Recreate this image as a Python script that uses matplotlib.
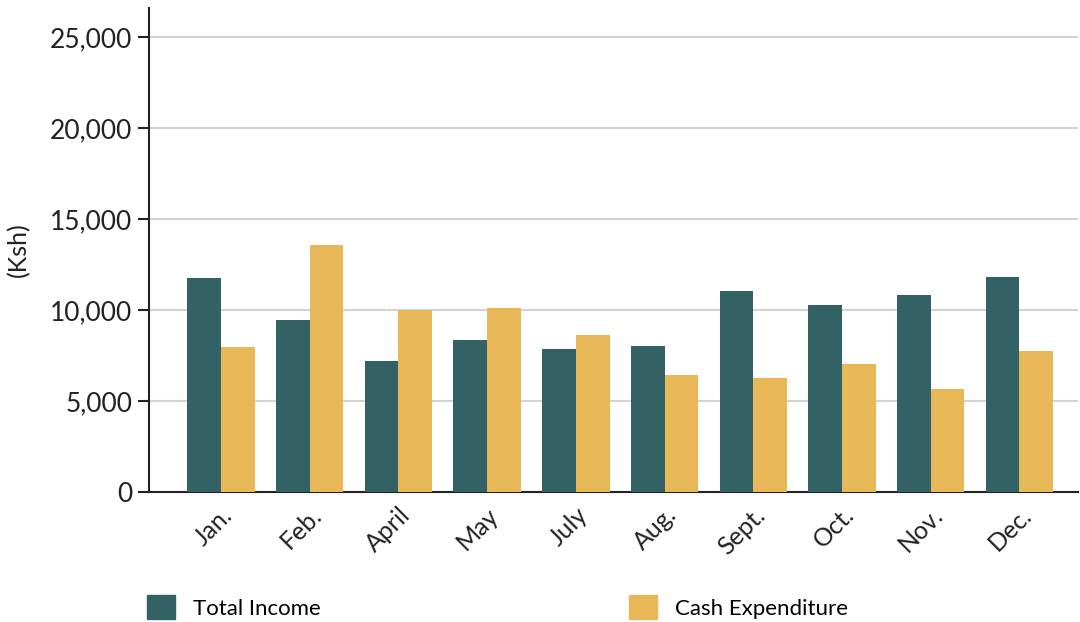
import matplotlib.pyplot as plt
import numpy as np
from matplotlib.patches import Patch

plt.rcParams['font.family'] = ['Lato', 'DejaVu Sans']

months = ['Jan.', 'Feb.', 'April', 'May', 'July', 'Aug.', 'Sept.', 'Oct.', 'Nov.', 'Dec.']
total_income = [11760, 9450, 7200, 8350, 7860, 8020, 11050, 10280, 10830, 11810]
cash_expenditure = [7970, 13570, 10000, 10110, 8630, 6430, 6260, 7030, 5660, 7750]
y_ticks = [0, 5000, 10000, 15000, 20000, 25000]

teal = '#336266'
gold = '#E8B758'

fig = plt.figure(figsize=(10.8, 6.22), dpi=100)
ax = fig.add_axes([149 / 1080, 130 / 622, 929 / 1080, 484 / 622])

x = np.arange(len(months))
w = 0.38
ax.bar(x - w / 2, total_income, width=w, color=teal, zorder=3)
ax.bar(x + w / 2, cash_expenditure, width=w, color=gold, zorder=3)

ax.set_xlim(-0.81, 9.66)
ax.set_ylim(0, 26600)
ax.set_yticks(y_ticks)
ax.set_yticklabels([f'{v:,}' for v in y_ticks])
ax.set_xticks(x)
ax.set_xticklabels(months, rotation=45, ha='right', rotation_mode='anchor')
ax.tick_params(axis='y', labelsize=19, length=8, width=1.5, colors='#222222', pad=4)
ax.tick_params(axis='x', labelsize=18, length=0, pad=8, colors='#222222')
ax.grid(axis='y', color='#d3d3d3', linewidth=1.5, zorder=0)
ax.set_ylabel('(Ksh)', fontsize=18, color='#222222', labelpad=14)

for s in ['top', 'right']:
    ax.spines[s].set_visible(False)
for s in ['left', 'bottom']:
    ax.spines[s].set_linewidth(1.5)
    ax.spines[s].set_color('#222222')

handles = [Patch(color=teal, label='Total Income'), Patch(color=gold, label='Cash Expenditure')]
fig.legend(handles=handles, loc='lower left', bbox_to_anchor=(127 / 1080, -0.027), ncol=2,
           frameon=False, fontsize=16, handlelength=1.25, handleheight=1.25,
           handletextpad=0.8, columnspacing=13.9)

plt.savefig('out.png', dpi=100)
